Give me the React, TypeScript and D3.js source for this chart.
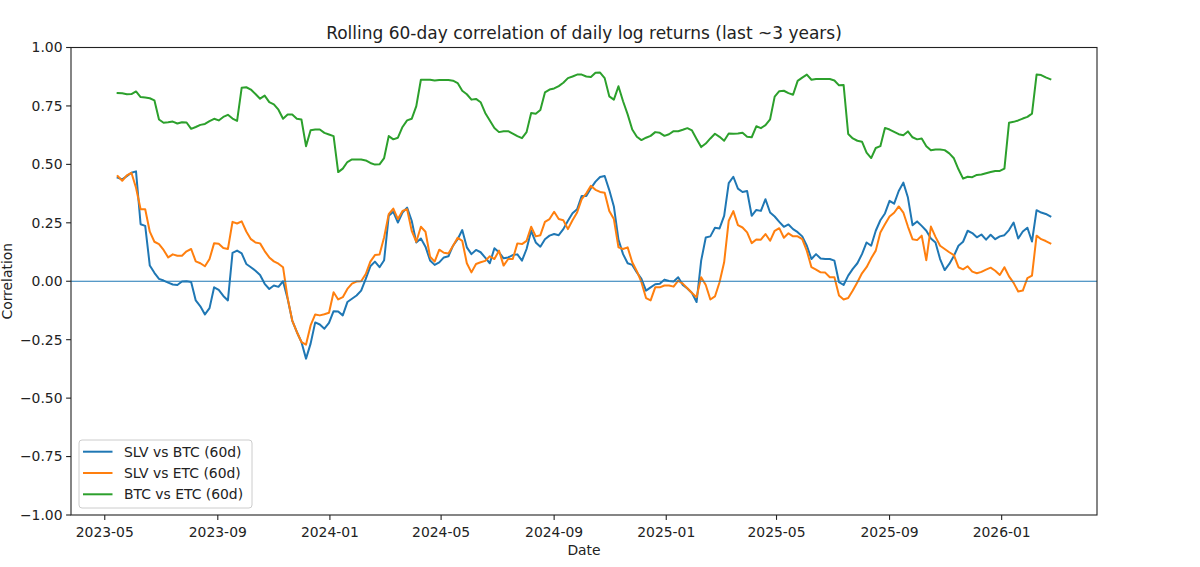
import React from "react";
import * as d3 from "d3";

const startDate = "2023-05-15";
const stepDays = 5;

const slvBtc = [0.443,0.436,0.450,0.464,0.470,0.244,0.237,0.067,0.036,0.010,0.003,-0.006,-0.014,-0.016,-0.001,0.000,-0.003,-0.082,-0.107,-0.142,-0.115,-0.026,-0.037,-0.063,-0.082,0.121,0.131,0.119,0.074,0.060,0.045,0.027,-0.011,-0.033,-0.018,-0.024,0.000,-0.075,-0.168,-0.217,-0.260,-0.331,-0.267,-0.176,-0.185,-0.203,-0.178,-0.128,-0.129,-0.146,-0.089,-0.075,-0.061,-0.040,0.010,0.064,0.084,0.060,0.090,0.280,0.297,0.251,0.294,0.315,0.259,0.166,0.183,0.148,0.089,0.070,0.081,0.102,0.107,0.152,0.180,0.219,0.145,0.116,0.134,0.124,0.101,0.077,0.141,0.124,0.098,0.102,0.112,0.115,0.088,0.138,0.216,0.166,0.148,0.180,0.195,0.202,0.197,0.223,0.259,0.291,0.308,0.365,0.365,0.398,0.426,0.446,0.450,0.390,0.320,0.178,0.116,0.077,0.070,0.038,0.010,-0.040,-0.026,-0.013,-0.011,0.007,0.001,-0.001,0.017,-0.016,-0.031,-0.050,-0.089,0.088,0.187,0.192,0.229,0.226,0.280,0.420,0.447,0.396,0.382,0.386,0.280,0.305,0.301,0.351,0.294,0.277,0.254,0.233,0.243,0.223,0.210,0.192,0.152,0.095,0.116,0.097,0.095,0.095,0.088,-0.004,-0.016,0.024,0.053,0.077,0.116,0.166,0.152,0.216,0.261,0.290,0.344,0.332,0.386,0.422,0.358,0.240,0.256,0.237,0.216,0.183,0.166,0.095,0.048,0.074,0.108,0.152,0.169,0.216,0.206,0.188,0.200,0.178,0.199,0.180,0.192,0.197,0.219,0.251,0.183,0.213,0.229,0.170,0.304,0.294,0.288,0.277];

const slvEtc = [0.450,0.430,0.453,0.464,0.400,0.308,0.308,0.212,0.169,0.159,0.134,0.102,0.115,0.109,0.109,0.128,0.138,0.085,0.077,0.064,0.095,0.163,0.160,0.142,0.138,0.254,0.247,0.256,0.213,0.180,0.166,0.162,0.129,0.102,0.085,0.075,0.060,-0.072,-0.168,-0.217,-0.260,-0.271,-0.189,-0.142,-0.146,-0.141,-0.135,-0.047,-0.078,-0.068,-0.033,-0.010,-0.001,0.000,0.031,0.084,0.112,0.114,0.188,0.287,0.311,0.266,0.301,0.308,0.216,0.169,0.233,0.212,0.105,0.084,0.135,0.122,0.119,0.152,0.186,0.173,0.077,0.038,0.074,0.081,0.087,0.107,0.095,0.131,0.067,0.095,0.095,0.162,0.159,0.173,0.233,0.192,0.197,0.254,0.266,0.297,0.266,0.261,0.223,0.261,0.294,0.351,0.376,0.408,0.391,0.382,0.379,0.301,0.266,0.145,0.138,0.145,0.081,0.043,-0.004,-0.072,-0.082,-0.026,-0.026,-0.018,-0.018,-0.023,0.003,-0.010,-0.030,-0.050,-0.068,0.017,-0.016,-0.078,-0.065,-0.004,0.081,0.259,0.300,0.240,0.230,0.209,0.163,0.179,0.178,0.202,0.173,0.216,0.227,0.186,0.205,0.192,0.192,0.180,0.130,0.060,0.050,0.038,0.037,0.017,0.017,-0.061,-0.078,-0.072,-0.040,-0.004,0.034,0.060,0.098,0.131,0.209,0.244,0.277,0.293,0.320,0.294,0.234,0.180,0.176,0.195,0.090,0.234,0.190,0.152,0.138,0.124,0.112,0.060,0.051,0.064,0.041,0.034,0.040,0.050,0.058,0.045,0.027,0.060,0.021,-0.007,-0.044,-0.040,0.013,0.024,0.195,0.180,0.172,0.162];

const btcEtc = [0.805,0.804,0.800,0.801,0.812,0.788,0.786,0.783,0.774,0.692,0.678,0.680,0.683,0.675,0.680,0.679,0.652,0.660,0.669,0.673,0.685,0.695,0.688,0.703,0.712,0.696,0.686,0.828,0.830,0.820,0.801,0.781,0.794,0.766,0.757,0.734,0.695,0.713,0.713,0.695,0.692,0.578,0.646,0.649,0.649,0.635,0.628,0.621,0.467,0.482,0.510,0.521,0.521,0.521,0.517,0.506,0.499,0.500,0.527,0.621,0.607,0.614,0.660,0.688,0.695,0.749,0.862,0.862,0.862,0.859,0.861,0.861,0.861,0.858,0.848,0.815,0.800,0.777,0.780,0.766,0.720,0.688,0.656,0.638,0.642,0.642,0.632,0.621,0.612,0.638,0.720,0.717,0.733,0.808,0.820,0.825,0.835,0.849,0.869,0.876,0.884,0.884,0.876,0.874,0.892,0.893,0.869,0.791,0.777,0.834,0.770,0.714,0.649,0.618,0.604,0.614,0.622,0.638,0.635,0.622,0.629,0.642,0.642,0.648,0.655,0.645,0.609,0.574,0.589,0.611,0.631,0.618,0.601,0.632,0.631,0.632,0.635,0.618,0.616,0.663,0.655,0.668,0.693,0.790,0.813,0.815,0.805,0.798,0.857,0.871,0.884,0.862,0.865,0.865,0.865,0.865,0.859,0.838,0.840,0.630,0.611,0.601,0.597,0.550,0.527,0.570,0.578,0.656,0.649,0.639,0.629,0.625,0.641,0.616,0.607,0.611,0.578,0.560,0.564,0.564,0.561,0.547,0.526,0.479,0.439,0.447,0.445,0.455,0.457,0.462,0.467,0.472,0.472,0.482,0.678,0.682,0.688,0.696,0.703,0.717,0.884,0.882,0.872,0.864];

const seriesNames = ["SLV vs BTC (60d)", "SLV vs ETC (60d)", "BTC vs ETC (60d)"];
const seriesColors = ["#1f77b4", "#ff7f0e", "#2ca02c"];
const yTicks = [-1, -0.75, -0.5, -0.25, 0, 0.25, 0.5, 0.75, 1];
const titleText = "Rolling 60-day correlation of daily log returns (last ~3 years)";

const W = 1200, H = 567;
const left = 71, right = 1097, top = 47.5, bottom = 515;
const FONT = "DejaVu Sans, sans-serif";

export default function App() {
  const t0 = new Date(startDate + "T00:00:00Z");
  const dates = slvBtc.map((_, i) => d3.utcDay.offset(t0, i * stepDays));
  const [dMin, dMax] = d3.extent(dates) as [Date, Date];
  const span = +dMax - +dMin;
  const x = d3.scaleUtc().domain([new Date(+dMin - span * 0.05), new Date(+dMax + span * 0.05)]).range([left, right]);
  const y = d3.scaleLinear().domain([-1, 1]).range([bottom, top]);
  const xTicks = x.ticks(d3.utcMonth.every(4) as any);
  const fmt = d3.utcFormat("%Y-%m");
  const line = d3.line<[Date, number]>().x(d => x(d[0])).y(d => y(d[1]));
  const all = [slvBtc, slvEtc, btcEtc];
  const fmtY = (v: number) => (v < 0 ? "\u2212" : "") + Math.abs(v).toFixed(2);

  return (
    <svg width={W} height={H} style={{ position: "absolute", left: 0, top: 0, background: "#fff" }} fontFamily={FONT}>
      <rect x={0} y={0} width={W} height={H} fill="#fff" />
      <defs>
        <clipPath id="plotclip"><rect x={left} y={top} width={right - left} height={bottom - top} /></clipPath>
      </defs>
      <g clipPath="url(#plotclip)">
        {all.map((vals, k) => (
          <path key={k} d={line(vals.map((v, i) => [dates[i], v] as [Date, number])) || ""} fill="none" stroke={seriesColors[k]} strokeWidth={2} strokeLinejoin="round" strokeLinecap="square" />
        ))}
        <line x1={left} x2={right} y1={y(0)} y2={y(0)} stroke="#1f77b4" strokeWidth={1.1} />
      </g>
      <rect x={left} y={top} width={right - left} height={bottom - top} fill="none" stroke="#222" strokeWidth={1.1} />
      {yTicks.map(v => (
        <g key={v}>
          <line x1={left - 4.9} x2={left} y1={y(v)} y2={y(v)} stroke="#222" strokeWidth={1.1} />
          <text x={left - 8.5} y={y(v)} dy="0.35em" textAnchor="end" fontSize={13.9} fill="#222">{fmtY(v)}</text>
        </g>
      ))}
      {xTicks.map((d, i) => (
        <g key={i}>
          <line x1={x(d)} x2={x(d)} y1={bottom} y2={bottom + 4.9} stroke="#222" strokeWidth={1.1} />
          <text x={x(d)} y={bottom + 21.5} textAnchor="middle" fontSize={13.9} fill="#222">{fmt(d)}</text>
        </g>
      ))}
      <text x={(left + right) / 2} y={38.5} textAnchor="middle" fontSize={17} fill="#222">{titleText}</text>
      <text x={(left + right) / 2} y={555} textAnchor="middle" fontSize={13.9} fill="#222">Date</text>
      <text transform={`translate(11.5,${y(0)}) rotate(-90)`} textAnchor="middle" fontSize={13.9} fill="#222">Correlation</text>
      <g>
        <rect x={79} y={440} width={173} height={68} rx={3} fill="#fff" fillOpacity={0.8} stroke="#cccccc" strokeWidth={1} />
        {seriesNames.map((n, k) => (
          <g key={n}>
            <line x1={83} x2={112.5} y1={451.7 + k * 21.3} y2={451.7 + k * 21.3} stroke={seriesColors[k]} strokeWidth={2} />
            <text x={124} y={451.7 + k * 21.3} dy="0.35em" fontSize={13.9} fill="#222">{n}</text>
          </g>
        ))}
      </g>
    </svg>
  );
}
